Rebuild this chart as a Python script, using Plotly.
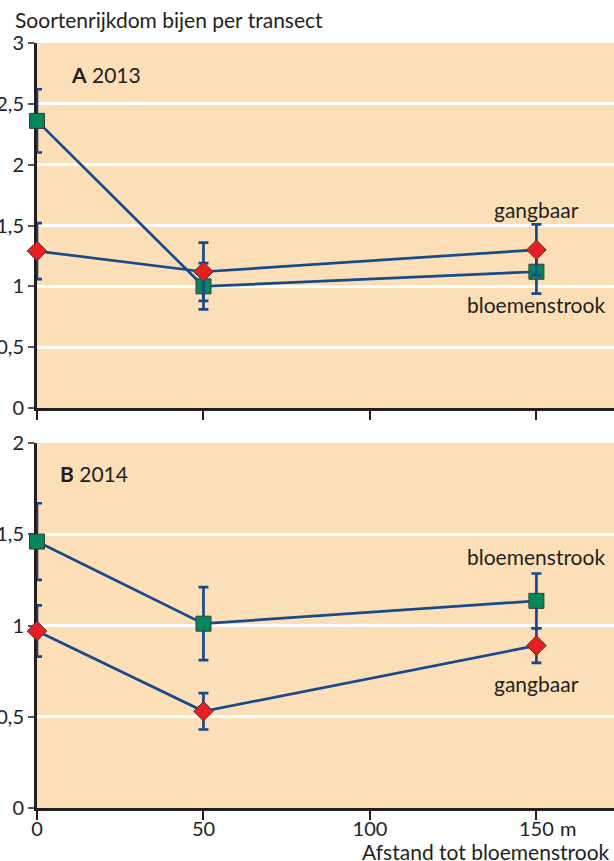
import plotly.graph_objects as go

# ---- data ----
distance = [0, 50, 150]

# Panel A (2013)
a_bloem = [2.36, 1.00, 1.12]
a_bloem_err = [0.26, 0.19, 0.18]
a_gang = [1.29, 1.12, 1.30]
a_gang_err = [0.23, 0.24, 0.21]

# Panel B (2014)
b_bloem = [1.46, 1.01, 1.135]
b_bloem_err = [0.21, 0.20, 0.15]
b_gang = [0.97, 0.53, 0.89]
b_gang_err = [0.14, 0.10, 0.095]

a_yticks = [0, 0.5, 1, 1.5, 2, 2.5, 3]
a_yticktext = ["0", "0,5", "1", "1,5", "2", "2,5", "3"]
b_yticks = [0, 0.5, 1, 1.5, 2]
b_yticktext = ["0", "0,5", "1", "1,5", "2"]
x_ticks = [0, 50, 100, 150]
x_ticktext = ["0", "50", "100", "150"]

# ---- style ----
NAVY = "#174a8b"
GREEN = "#00885a"
RED = "#ec1c24"
PEACH = "#fcdfb6"
DARK = "#231f20"
FONT = "Lato"
FS = 21

fig = go.Figure()


def add_series(y, err, color, symbol, size, yaxis):
    fig.add_trace(go.Scatter(
        x=distance, y=y, mode="lines+markers",
        xaxis="x" if yaxis == "y" else "x2", yaxis=yaxis,
        line=dict(color=NAVY, width=2.7),
        marker=dict(color=color, symbol=symbol, size=size,
                    line=dict(color="#3a3a3a", width=1)),
        error_y=dict(type="data", array=err, visible=True,
                     color=NAVY, thickness=2.7, width=5),
        cliponaxis=False, showlegend=False, hoverinfo="skip",
    ))


add_series(a_bloem, a_bloem_err, GREEN, "square", 15, "y")
add_series(a_gang, a_gang_err, RED, "diamond", 15, "y")
add_series(b_bloem, b_bloem_err, GREEN, "square", 15, "y2")
add_series(b_gang, b_gang_err, RED, "diamond", 15, "y2")

H_TOP = 43
H_BOT = 808
plot_h = H_BOT - H_TOP
a_bottom = (H_BOT - 408) / plot_h
b_top = (H_BOT - 443) / plot_h

xcommon = dict(range=[0, 173.3], showgrid=False, zeroline=False,
               showline=True, linecolor=DARK, linewidth=3,
               ticks="outside", ticklen=9, tickwidth=2, tickcolor=DARK,
               tickvals=x_ticks, layer="below traces", fixedrange=True,
               automargin=False)
ycommon = dict(showgrid=True, gridcolor="white", gridwidth=2.5,
               zeroline=False, showline=True, linecolor=DARK, linewidth=3,
               ticks="outside", ticklen=6, tickwidth=1.5, tickcolor="#555555",
               layer="below traces", automargin=False, fixedrange=True,
               tickfont=dict(family=FONT, size=FS - 1, color=DARK))

fig.update_layout(
    width=614, height=861,
    margin=dict(l=37, r=0, t=H_TOP, b=861 - H_BOT),
    paper_bgcolor="white", plot_bgcolor=PEACH,
    font=dict(family=FONT, size=FS, color=DARK),
    xaxis=dict(xcommon, anchor="y", showticklabels=False),
    yaxis=dict(ycommon, domain=[a_bottom, 1], range=[0, 3],
               tickvals=a_yticks, ticktext=a_yticktext),
    xaxis2=dict(xcommon, anchor="y2", showticklabels=True,
                ticktext=x_ticktext, ticklabelstandoff=-8,
                tickfont=dict(family=FONT, size=FS - 1, color=DARK)),
    yaxis2=dict(ycommon, domain=[0, b_top], range=[0, 2],
                tickvals=b_yticks, ticktext=b_yticktext),
)

ann = [
    dict(text="Soortenrijkdom bijen per transect", xref="paper", yref="paper",
         x=-37 / 577, y=1, yshift=24, xanchor="left", yanchor="middle",
         showarrow=False, xshift=13, font=dict(size=FS)),
    dict(text="<b>A</b> 2013", xref="x", yref="y", x=0, y=2.74,
         xanchor="left", yanchor="middle", xshift=32, showarrow=False,
         font=dict(size=FS)),
    dict(text="<b>B</b> 2014", xref="x2", yref="y2", x=0, y=1.835,
         xanchor="left", yanchor="middle", xshift=21, showarrow=False,
         font=dict(size=FS)),
    dict(text="gangbaar", xref="x", yref="y", x=150, y=1.63,
         showarrow=False, font=dict(size=FS)),
    dict(text="bloemenstrook", xref="x", yref="y", x=150, y=0.85,
         showarrow=False, font=dict(size=FS)),
    dict(text="bloemenstrook", xref="x2", yref="y2", x=150, y=1.38,
         showarrow=False, font=dict(size=FS)),
    dict(text="gangbaar", xref="x2", yref="y2", x=150, y=0.68,
         showarrow=False, font=dict(size=FS)),
    dict(text="m", xref="x2", yref="paper", x=150, y=0, yshift=-20,
         xanchor="left", yanchor="middle", xshift=22, showarrow=False,
         font=dict(size=FS - 1)),
    dict(text="Afstand tot bloemenstrook", xref="paper", yref="paper",
         x=1, y=0, yshift=-43, xanchor="right", yanchor="middle",
         xshift=-2, showarrow=False, font=dict(size=FS)),
]
fig.update_layout(annotations=ann)

fig.write_html("out.html", config={"displayModeBar": False},
               post_script="document.body.style.margin='0';")
